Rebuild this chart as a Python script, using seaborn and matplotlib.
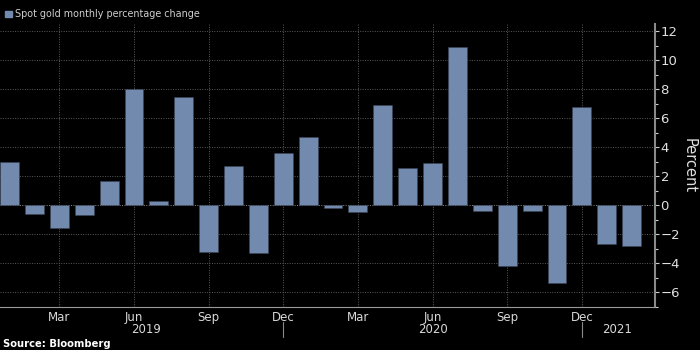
import matplotlib
matplotlib.use("Agg")
import matplotlib.pyplot as plt
import matplotlib.transforms as mtransforms
from matplotlib.ticker import MultipleLocator
import seaborn as sns
import pandas as pd

months = ["Jan", "Feb", "Mar", "Apr", "May", "Jun", "Jul", "Aug", "Sep", "Oct", "Nov", "Dec",
          "Jan", "Feb", "Mar", "Apr", "May", "Jun", "Jul", "Aug", "Sep", "Oct", "Nov", "Dec",
          "Jan", "Feb"]
years = [2019] * 12 + [2020] * 12 + [2021] * 2
change = [3.0, -0.6, -1.6, -0.7, 1.7, 8.0, 0.3, 7.5, -3.2, 2.7, -3.3, 3.6,
          4.7, -0.2, -0.5, 6.9, 2.6, 2.9, 10.9, -0.4, -4.2, -0.4, -5.4, 6.8,
          -2.7, -2.8]
labeled_months = ["Mar", "Jun", "Sep", "Dec"]
year_labels = ["2019", "2020", "2021"]

df = pd.DataFrame({"key": [f"{m} {y}" for m, y in zip(months, years)],
                   "change": change})

sns.set_style("dark")
plt.rcParams["font.family"] = ["DejaVu Sans"]

fig = plt.figure(figsize=(7, 3.5), dpi=100, facecolor="black")
ax = fig.add_axes([0.0, 0.124, 0.9357, 0.807])
ax.set_facecolor("black")

bar_color = "#718aad"
sns.barplot(data=df, x="key", y="change", color=bar_color, width=0.76,
            saturation=1, ax=ax, zorder=3, edgecolor="#3a4656", linewidth=0.4)

n = len(df)
ax.set_xlim(-0.385, n - 1 + 0.94)
ax.set_ylim(-7, 12.5)

# grid
for v in range(-6, 13, 2):
    ax.axhline(v, color="#5a5a5a" if v != 0 else "#8a8a8a", linestyle=(0, (1, 1.5)),
               linewidth=0.7, zorder=1)
for i, m in enumerate(months):
    if m in labeled_months:
        ax.axvline(i, color="#5a5a5a", linestyle=(0, (1, 1.5)), linewidth=0.7, zorder=1)

# x ticks
ax.set_xticks(range(n))
ax.set_xticklabels([m if m in labeled_months else "" for m in months],
                   color="#d8d8d8", fontsize=8.5)
ax.tick_params(axis="x", length=3, width=0.8, color="#9a9a9a", pad=0)
ax.set_xlabel("")

# y axis on right
ax.yaxis.tick_right()
ax.yaxis.set_label_position("right")
ax.yaxis.set_major_locator(MultipleLocator(2))
ax.yaxis.set_minor_locator(MultipleLocator(1))
ax.tick_params(axis="y", which="major", length=3, width=0.8, color="#cccccc",
               labelcolor="#e0e0e0", labelsize=9.5, pad=1)
ax.tick_params(axis="y", which="minor", length=2, width=0.8, color="#cccccc")
ax.set_yticks(range(-6, 13, 2))
ax.set_ylabel("Percent", rotation=270, color="#e0e0e0", fontsize=10.5, labelpad=12)

for s in ["top", "left"]:
    ax.spines[s].set_visible(False)
ax.spines["right"].set_color("#8a8a8a")
ax.spines["right"].set_linewidth(1.5)
ax.spines["bottom"].set_color("#9a9a9a")
ax.spines["bottom"].set_linewidth(0.8)

# year labels and separators
trans = mtransforms.blended_transform_factory(ax.transData, ax.transAxes)
centers = {2019: 5.5, 2020: 17.0, 2021: 24.4}
for yl in year_labels:
    ax.text(centers[int(yl)], -0.081, yl, transform=trans, ha="center", va="center",
            color="#d8d8d8", fontsize=8.5)
for sep in [11, 23]:
    ax.plot([sep, sep], [-0.055, -0.108], transform=trans, color="#8a8a8a",
            linewidth=0.8, clip_on=False)

# legend
fig.patches.append(plt.Rectangle((5 / 700, 1 - 17 / 350), 6.5 / 700, 6.5 / 350,
                                 transform=fig.transFigure, color=bar_color))
fig.text(15 / 700, 1 - 14 / 350, "Spot gold monthly percentage change",
         color="#cfcfcf", fontsize=6.9, va="center", ha="left")

# source
fig.text(3 / 700, 1 - 344 / 350, "Source: Bloomberg", color="white",
         fontsize=7.2, fontweight="bold", va="center", ha="left")

fig.savefig("out.png", dpi=100, facecolor="black")
